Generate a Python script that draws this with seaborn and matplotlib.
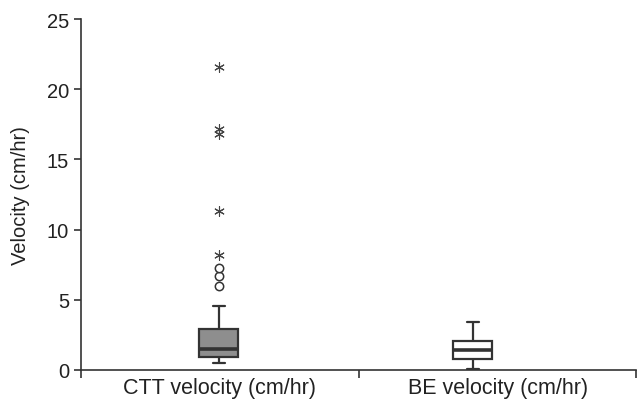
import matplotlib
matplotlib.use("Agg")
import matplotlib.pyplot as plt
import pandas as pd
import seaborn as sns

# groups and values (cm/hr)
groups = ["CTT velocity (cm/hr)", "BE velocity (cm/hr)"]

ctt_values = [0.5, 0.6, 0.65, 0.7, 0.75, 0.8, 0.84, 0.88, 0.9, 0.93,
              1.0, 1.05, 1.1, 1.2, 1.25, 1.3, 1.38, 1.45, 1.5, 1.6,
              1.7, 1.85, 2.0, 2.2, 2.4, 2.6, 2.8, 2.92, 4.56]
ctt_outliers = [6.0, 6.7, 7.3]             # circles
ctt_extremes = [8.2, 11.3, 16.8, 17.2, 21.6]  # asterisks

be_values = [0.05, 0.3, 0.6, 0.78, 1.0, 1.2, 1.43, 1.6, 1.8, 2.05,
             2.5, 3.0, 3.42]

df = pd.DataFrame({
    "group": [groups[0]] * len(ctt_values + ctt_outliers + ctt_extremes)
             + [groups[1]] * len(be_values),
    "velocity": ctt_values + ctt_outliers + ctt_extremes + be_values,
})
mild = pd.DataFrame({"group": [groups[0]] * len(ctt_outliers), "velocity": ctt_outliers})
extreme = pd.DataFrame({"group": [groups[0]] * len(ctt_extremes), "velocity": ctt_extremes})

sns.set_style("ticks")
plt.rcParams["font.family"] = ["Liberation Sans", "DejaVu Sans"]

line = "#333333"
fig = plt.figure(figsize=(6.43, 4.06), dpi=100)
ax = fig.add_axes([81 / 643, 35 / 406, 555 / 643, 351 / 406])

sns.boxplot(data=df, x="group", y="velocity", hue="group", order=groups,
            palette={groups[0]: "#8e8e8e", groups[1]: "white"},
            width=0.154, linecolor=line, linewidth=1.6, showfliers=False,
            medianprops={"linewidth": 2.6}, capwidths=0.05, legend=False, ax=ax)

sns.stripplot(data=mild, x="group", y="velocity", order=groups, jitter=False,
              marker="o", s=6, color="white", edgecolor=line, linewidth=1.1, ax=ax)
sns.stripplot(data=extreme, x="group", y="velocity", order=groups, jitter=False,
              marker=(6, 2, 0), s=7, color="#444444", edgecolor="#444444",
              linewidth=0.8, ax=ax)

ax.set_ylim(0, 25)
ax.set_yticks([0, 5, 10, 15, 20, 25])
ax.set_xlim(-0.543, 1.642)
ax.set_xticks([-0.543, 0.551, 1.642])
ax.set_xticklabels([])
ax.set_xticks([0.004, 1.097], minor=True)
ax.set_xticklabels(groups, minor=True)
ax.tick_params(axis="x", which="minor", length=0, pad=5)
ax.tick_params(axis="x", which="major", length=6, width=1.2, color=line)
ax.tick_params(axis="y", length=5, width=1.2, color=line)
ax.tick_params(axis="y", labelsize=14.5, labelcolor="#222222")
ax.tick_params(axis="x", which="minor", labelsize=15.5, labelcolor="#222222")
ax.set_xlabel("")
ax.set_ylabel("Velocity (cm/hr)", fontsize=14.5, color="#222222", labelpad=12)

sns.despine(ax=ax)
for side in ["left", "bottom"]:
    ax.spines[side].set_color(line)
    ax.spines[side].set_linewidth(1.2)

fig.savefig("out.png", dpi=100)
